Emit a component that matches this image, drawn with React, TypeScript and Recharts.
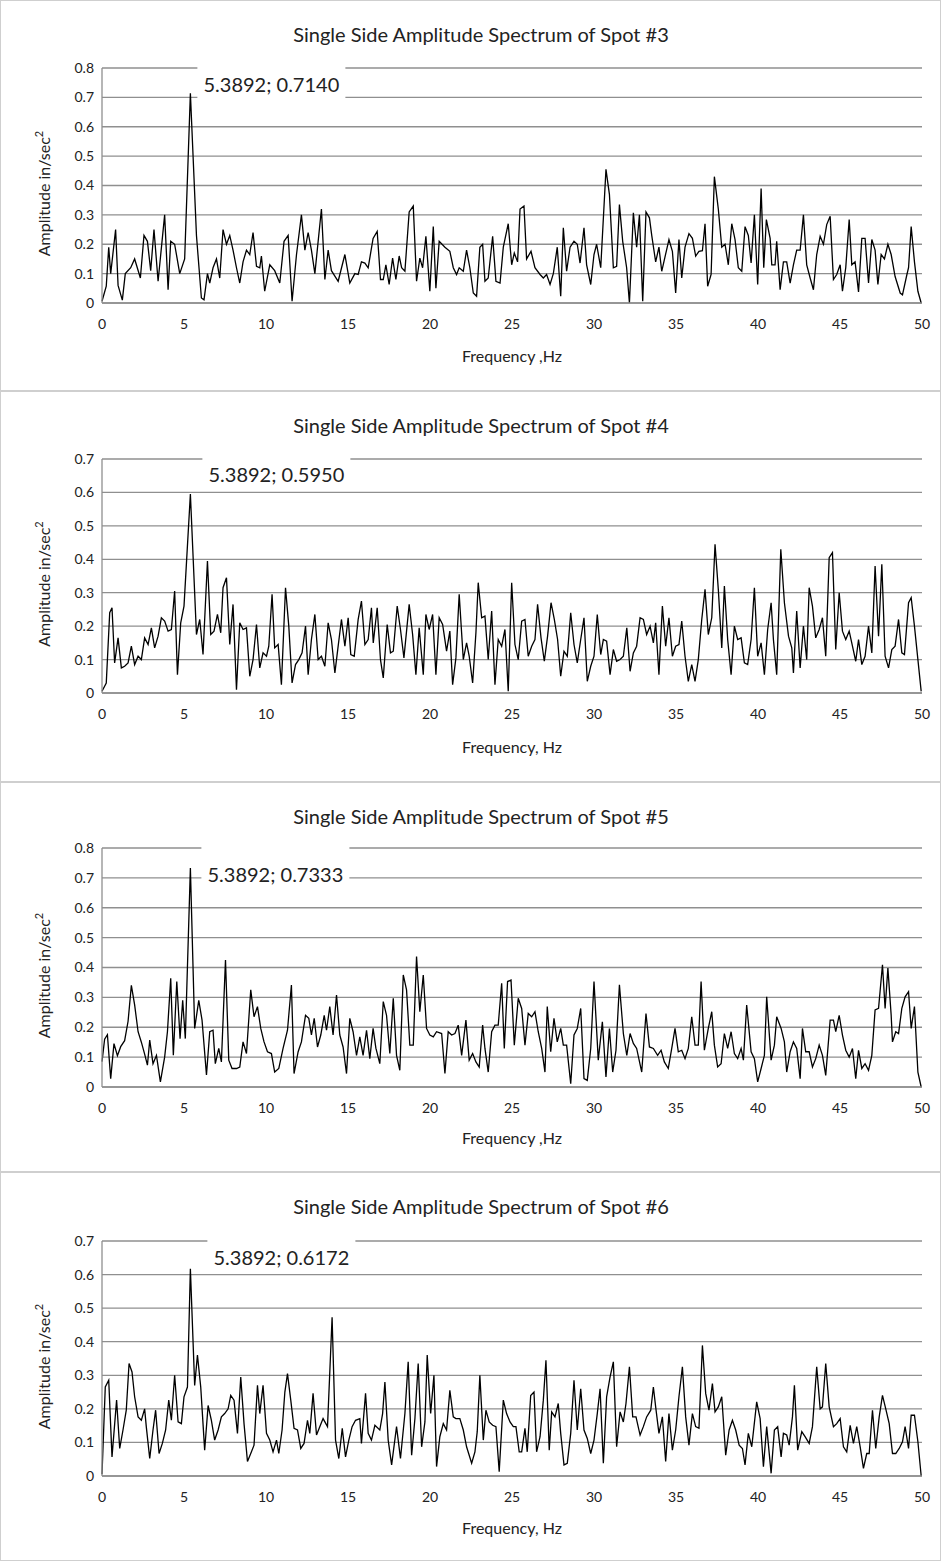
import { LineChart, Line, XAxis, YAxis, CartesianGrid, ReferenceDot } from 'recharts'

const FONT = 'Lato, "Open Sans", sans-serif'
const GRID = '#8f8f8f'

const freqTicks = [0, 5, 10, 15, 20, 25, 30, 35, 40, 45, 50]
const ampTicks8 = [0, 0.1, 0.2, 0.3, 0.4, 0.5, 0.6, 0.7, 0.8]
const ampTicks7 = [0, 0.1, 0.2, 0.3, 0.4, 0.5, 0.6, 0.7]

// [frequency Hz, amplitude in/sec²]
const spot3: [number, number][] = [
  [0, 0.006], [0.26, 0.057], [0.41, 0.19], [0.53, 0.1], [0.83, 0.25], [0.98, 0.06], [1.24, 0.01], [1.42, 0.1], [1.75, 0.12], [1.99, 0.15],
  [2.34, 0.085], [2.56, 0.23], [2.77, 0.21], [2.97, 0.11], [3.17, 0.25], [3.42, 0.074], [3.82, 0.3], [4.03, 0.045], [4.19, 0.21], [4.43, 0.2],
  [4.74, 0.1], [5.04, 0.15], [5.3892, 0.714], [5.76, 0.23], [6.06, 0.017], [6.22, 0.011], [6.43, 0.1], [6.57, 0.068], [6.77, 0.12], [6.98, 0.15],
  [7.18, 0.085], [7.38, 0.25], [7.59, 0.2], [7.79, 0.23], [7.99, 0.18], [8.2, 0.12], [8.4, 0.068], [8.6, 0.14], [8.81, 0.18], [9.01, 0.165],
  [9.21, 0.24], [9.42, 0.125], [9.62, 0.12], [9.72, 0.16], [9.92, 0.04], [10.23, 0.13], [10.53, 0.11], [10.84, 0.068], [11.1, 0.21], [11.35, 0.23],
  [11.59, 0.006], [11.86, 0.165], [12.16, 0.3], [12.37, 0.18], [12.57, 0.24], [12.77, 0.18], [12.98, 0.1], [13.38, 0.32], [13.59, 0.08], [13.79, 0.18],
  [13.99, 0.11], [14.4, 0.074], [14.81, 0.165], [15.11, 0.068], [15.42, 0.1], [15.62, 0.097], [15.82, 0.14], [16.03, 0.136], [16.23, 0.12], [16.53, 0.22],
  [16.78, 0.244], [16.98, 0.08], [17.15, 0.08], [17.31, 0.13], [17.51, 0.063], [17.72, 0.153], [17.92, 0.08], [18.12, 0.16], [18.27, 0.12], [18.47, 0.108],
  [18.73, 0.31], [18.98, 0.33], [19.18, 0.074], [19.38, 0.153], [19.55, 0.12], [19.75, 0.227], [19.99, 0.04], [20.2, 0.26], [20.36, 0.05], [20.56, 0.21],
  [20.91, 0.19], [21.21, 0.176], [21.42, 0.12], [21.62, 0.097], [21.78, 0.12], [22.03, 0.108], [22.23, 0.18], [22.43, 0.12], [22.64, 0.034], [22.84, 0.023],
  [23.04, 0.19], [23.21, 0.2], [23.35, 0.074], [23.55, 0.085], [23.82, 0.227], [24.02, 0.074], [24.27, 0.068], [24.47, 0.19], [24.77, 0.27], [24.98, 0.13],
  [25.14, 0.17], [25.34, 0.14], [25.49, 0.32], [25.73, 0.33], [25.89, 0.15], [26.16, 0.176], [26.4, 0.12], [26.71, 0.097], [26.91, 0.085], [27.11, 0.097],
  [27.32, 0.063], [27.52, 0.1], [27.76, 0.19], [27.97, 0.023], [28.13, 0.256], [28.33, 0.108], [28.54, 0.19], [28.78, 0.21], [28.98, 0.2], [29.15, 0.136],
  [29.39, 0.256], [29.55, 0.13], [29.8, 0.063], [30.0, 0.165], [30.16, 0.2], [30.41, 0.12], [30.73, 0.455], [30.94, 0.37], [31.18, 0.12], [31.38, 0.125],
  [31.55, 0.335], [31.75, 0.21], [31.99, 0.12], [32.16, 0.0], [32.4, 0.307], [32.6, 0.19], [32.77, 0.3], [32.97, 0.006], [33.17, 0.31], [33.38, 0.29],
  [33.52, 0.23], [33.76, 0.14], [33.96, 0.19], [34.13, 0.108], [34.57, 0.216], [34.78, 0.176], [34.98, 0.034], [35.18, 0.216], [35.35, 0.085], [35.55, 0.19],
  [35.79, 0.236], [36.0, 0.22], [36.2, 0.16], [36.4, 0.176], [36.61, 0.178], [36.77, 0.27], [36.93, 0.057], [37.14, 0.097], [37.34, 0.43], [37.58, 0.32],
  [37.79, 0.19], [37.99, 0.2], [38.19, 0.13], [38.4, 0.27], [38.6, 0.216], [38.8, 0.12], [39.01, 0.108], [39.21, 0.26], [39.41, 0.23], [39.58, 0.136],
  [39.78, 0.3], [39.98, 0.063], [40.19, 0.39], [40.35, 0.12], [40.51, 0.284], [40.74, 0.22], [40.84, 0.13], [41.04, 0.13], [41.14, 0.21], [41.35, 0.045],
  [41.55, 0.14], [41.75, 0.14], [41.96, 0.068], [42.16, 0.13], [42.36, 0.18], [42.57, 0.18], [42.77, 0.3], [42.97, 0.13], [43.18, 0.085], [43.38, 0.045],
  [43.58, 0.165], [43.79, 0.227], [43.99, 0.2], [44.19, 0.267], [44.4, 0.295], [44.6, 0.08], [44.8, 0.097], [45.01, 0.13], [45.15, 0.04], [45.35, 0.12],
  [45.56, 0.284], [45.72, 0.13], [45.92, 0.14], [46.13, 0.038], [46.33, 0.22], [46.53, 0.22], [46.74, 0.068], [46.94, 0.216], [47.14, 0.18], [47.31, 0.063],
  [47.51, 0.165], [47.71, 0.15], [47.92, 0.2], [48.12, 0.165], [48.36, 0.09], [48.67, 0.034], [48.81, 0.028], [49.08, 0.097], [49.18, 0.12], [49.34, 0.26],
  [49.54, 0.14], [49.75, 0.04], [49.95, 0.0],
]

const spot4: [number, number][] = [
  [0, 0.005], [0.26, 0.03], [0.47, 0.24], [0.61, 0.255], [0.77, 0.09], [0.98, 0.165], [1.18, 0.075], [1.38, 0.08], [1.59, 0.09], [1.79, 0.14],
  [1.99, 0.085], [2.2, 0.11], [2.4, 0.1], [2.6, 0.165], [2.81, 0.145], [3.01, 0.195], [3.21, 0.135], [3.42, 0.17], [3.62, 0.225], [3.82, 0.215],
  [4.03, 0.185], [4.23, 0.19], [4.43, 0.305], [4.6, 0.055], [4.8, 0.21], [5.0, 0.26], [5.3892, 0.595], [5.76, 0.175], [5.96, 0.22], [6.16, 0.115],
  [6.43, 0.395], [6.63, 0.175], [6.83, 0.185], [7.04, 0.235], [7.24, 0.18], [7.38, 0.315], [7.59, 0.345], [7.79, 0.145], [7.99, 0.265], [8.2, 0.01],
  [8.4, 0.21], [8.6, 0.19], [8.81, 0.195], [9.01, 0.05], [9.21, 0.1], [9.42, 0.205], [9.62, 0.075], [9.82, 0.12], [10.03, 0.11], [10.17, 0.14],
  [10.37, 0.295], [10.53, 0.135], [10.74, 0.145], [10.94, 0.025], [11.19, 0.315], [11.39, 0.2], [11.59, 0.03], [11.8, 0.085], [12.0, 0.1], [12.2, 0.12],
  [12.41, 0.2], [12.57, 0.055], [12.77, 0.16], [12.98, 0.235], [13.18, 0.1], [13.38, 0.11], [13.59, 0.08], [13.79, 0.21], [13.99, 0.16], [14.2, 0.06],
  [14.4, 0.14], [14.6, 0.22], [14.81, 0.14], [15.01, 0.225], [15.17, 0.115], [15.38, 0.11], [15.62, 0.22], [15.82, 0.275], [16.03, 0.145], [16.23, 0.16],
  [16.43, 0.255], [16.54, 0.15], [16.78, 0.255], [16.98, 0.1], [17.15, 0.045], [17.39, 0.205], [17.59, 0.12], [17.76, 0.125], [18.0, 0.26], [18.2, 0.19],
  [18.41, 0.105], [18.73, 0.265], [18.94, 0.175], [19.14, 0.055], [19.34, 0.195], [19.59, 0.055], [19.75, 0.235], [19.95, 0.19], [20.16, 0.235], [20.36, 0.055],
  [20.56, 0.225], [20.77, 0.205], [21.01, 0.125], [21.21, 0.185], [21.38, 0.025], [21.58, 0.105], [21.78, 0.295], [22.03, 0.1], [22.23, 0.15], [22.39, 0.11],
  [22.6, 0.03], [22.8, 0.18], [22.94, 0.33], [23.15, 0.225], [23.35, 0.23], [23.55, 0.1], [23.76, 0.245], [23.96, 0.025], [24.16, 0.16], [24.37, 0.14],
  [24.57, 0.19], [24.77, 0.005], [24.98, 0.33], [25.18, 0.145], [25.38, 0.1], [25.59, 0.215], [25.79, 0.22], [25.99, 0.11], [26.2, 0.14], [26.4, 0.16],
  [26.56, 0.265], [26.77, 0.165], [26.97, 0.095], [27.17, 0.17], [27.38, 0.27], [27.58, 0.22], [27.78, 0.16], [27.97, 0.05], [28.17, 0.125], [28.37, 0.11],
  [28.58, 0.24], [28.78, 0.145], [28.98, 0.09], [29.19, 0.16], [29.39, 0.225], [29.59, 0.035], [29.8, 0.08], [30.0, 0.11], [30.2, 0.235], [30.41, 0.115],
  [30.57, 0.16], [30.77, 0.155], [30.98, 0.055], [31.18, 0.13], [31.38, 0.095], [31.59, 0.1], [31.79, 0.11], [32.0, 0.195], [32.2, 0.065], [32.4, 0.12],
  [32.6, 0.14], [32.81, 0.225], [33.01, 0.22], [33.21, 0.175], [33.42, 0.2], [33.62, 0.15], [33.76, 0.21], [33.96, 0.055], [34.17, 0.26], [34.37, 0.14],
  [34.57, 0.225], [34.78, 0.11], [34.98, 0.14], [35.18, 0.145], [35.35, 0.215], [35.55, 0.11], [35.75, 0.035], [35.96, 0.085], [36.16, 0.035], [36.36, 0.1],
  [36.57, 0.22], [36.77, 0.31], [36.97, 0.175], [37.18, 0.225], [37.38, 0.445], [37.58, 0.31], [37.79, 0.135], [37.95, 0.32], [38.15, 0.16], [38.36, 0.055],
  [38.56, 0.2], [38.76, 0.16], [38.97, 0.165], [39.17, 0.09], [39.37, 0.085], [39.58, 0.16], [39.78, 0.315], [39.98, 0.11], [40.19, 0.15], [40.39, 0.055],
  [40.59, 0.19], [40.8, 0.27], [40.94, 0.16], [41.14, 0.055], [41.39, 0.43], [41.61, 0.27], [41.86, 0.17], [42.06, 0.135], [42.16, 0.06], [42.36, 0.245],
  [42.57, 0.075], [42.77, 0.2], [42.97, 0.1], [43.12, 0.315], [43.32, 0.26], [43.52, 0.165], [43.73, 0.19], [43.93, 0.225], [44.13, 0.11], [44.34, 0.405],
  [44.54, 0.42], [44.74, 0.13], [44.95, 0.3], [45.15, 0.185], [45.35, 0.16], [45.56, 0.185], [45.76, 0.14], [45.96, 0.095], [46.13, 0.16], [46.33, 0.085],
  [46.53, 0.11], [46.74, 0.2], [46.94, 0.12], [47.14, 0.38], [47.35, 0.17], [47.55, 0.385], [47.75, 0.11], [47.96, 0.075], [48.16, 0.13], [48.36, 0.14],
  [48.57, 0.22], [48.77, 0.12], [48.93, 0.115], [49.18, 0.27], [49.34, 0.285], [49.54, 0.2], [49.75, 0.1], [49.95, 0.005],
]

const spot5: [number, number][] = [
  [0, 0.085], [0.16, 0.16], [0.33, 0.175], [0.53, 0.028], [0.73, 0.145], [0.94, 0.105], [1.14, 0.135], [1.38, 0.155], [1.59, 0.22], [1.79, 0.34],
  [1.99, 0.275], [2.2, 0.185], [2.4, 0.15], [2.6, 0.11], [2.77, 0.073], [2.91, 0.157], [3.11, 0.078], [3.32, 0.106], [3.56, 0.017], [3.82, 0.1],
  [3.99, 0.185], [4.19, 0.364], [4.35, 0.106], [4.56, 0.353], [4.76, 0.162], [4.92, 0.29], [5.08, 0.162], [5.3892, 0.7333], [5.65, 0.196], [5.9, 0.29],
  [6.1, 0.224], [6.37, 0.04], [6.57, 0.185], [6.77, 0.19], [6.91, 0.078], [7.12, 0.129], [7.28, 0.084], [7.53, 0.425], [7.73, 0.09], [7.93, 0.062],
  [8.2, 0.062], [8.4, 0.067], [8.6, 0.151], [8.81, 0.112], [9.07, 0.325], [9.27, 0.235], [9.48, 0.269], [9.68, 0.196], [9.88, 0.151], [10.09, 0.118],
  [10.33, 0.112], [10.53, 0.05], [10.78, 0.062], [11.04, 0.129], [11.31, 0.19], [11.55, 0.341], [11.71, 0.045], [11.96, 0.118], [12.16, 0.151], [12.41, 0.24],
  [12.61, 0.23], [12.77, 0.174], [12.94, 0.23], [13.14, 0.134], [13.34, 0.174], [13.55, 0.24], [13.69, 0.19], [13.89, 0.269], [14.09, 0.174], [14.3, 0.308],
  [14.5, 0.174], [14.7, 0.134], [14.91, 0.045], [15.11, 0.23], [15.31, 0.185], [15.52, 0.106], [15.72, 0.168], [15.92, 0.106], [16.13, 0.19], [16.33, 0.095],
  [16.53, 0.196], [16.7, 0.13], [16.94, 0.078], [17.15, 0.286], [17.35, 0.24], [17.55, 0.112], [17.76, 0.297], [17.96, 0.106], [18.16, 0.056], [18.37, 0.375],
  [18.57, 0.325], [18.77, 0.14], [18.98, 0.14], [19.18, 0.437], [19.38, 0.252], [19.59, 0.375], [19.79, 0.196], [19.99, 0.174], [20.2, 0.168], [20.4, 0.185],
  [20.71, 0.179], [20.91, 0.045], [21.11, 0.185], [21.32, 0.174], [21.52, 0.179], [21.72, 0.207], [21.93, 0.106], [22.19, 0.224], [22.39, 0.09], [22.6, 0.112],
  [22.8, 0.084], [23.0, 0.067], [23.21, 0.207], [23.35, 0.129], [23.55, 0.05], [23.76, 0.185], [23.96, 0.207], [24.16, 0.207], [24.37, 0.347], [24.53, 0.129],
  [24.73, 0.353], [24.94, 0.358], [25.14, 0.14], [25.38, 0.297], [25.59, 0.263], [25.79, 0.14], [25.99, 0.246], [26.2, 0.235], [26.4, 0.252], [26.6, 0.185],
  [26.81, 0.129], [27.01, 0.05], [27.15, 0.269], [27.36, 0.118], [27.56, 0.23], [27.76, 0.151], [27.97, 0.196], [28.13, 0.14], [28.33, 0.14], [28.58, 0.011],
  [28.78, 0.174], [28.98, 0.196], [29.19, 0.263], [29.39, 0.028], [29.59, 0.022], [29.8, 0.129], [30.0, 0.353], [30.26, 0.09], [30.51, 0.218], [30.73, 0.034],
  [30.94, 0.196], [31.14, 0.05], [31.34, 0.123], [31.55, 0.342], [31.79, 0.179], [32.0, 0.106], [32.2, 0.179], [32.4, 0.146], [32.6, 0.129], [32.91, 0.05],
  [33.17, 0.246], [33.38, 0.134], [33.62, 0.129], [33.88, 0.106], [34.09, 0.123], [34.29, 0.084], [34.53, 0.062], [34.74, 0.129], [34.94, 0.196], [35.14, 0.118],
  [35.35, 0.123], [35.55, 0.095], [35.75, 0.129], [35.96, 0.235], [36.16, 0.14], [36.36, 0.14], [36.53, 0.353], [36.73, 0.123], [36.97, 0.196], [37.18, 0.252],
  [37.34, 0.14], [37.54, 0.067], [37.75, 0.078], [37.95, 0.179], [38.15, 0.129], [38.36, 0.185], [38.56, 0.112], [38.76, 0.095], [38.97, 0.129], [39.11, 0.09],
  [39.31, 0.274], [39.58, 0.118], [39.78, 0.095], [39.98, 0.017], [40.19, 0.062], [40.39, 0.106], [40.53, 0.302], [40.8, 0.09], [41.0, 0.14], [41.14, 0.235],
  [41.41, 0.196], [41.61, 0.151], [41.75, 0.05], [41.96, 0.118], [42.16, 0.151], [42.36, 0.129], [42.57, 0.028], [42.71, 0.196], [42.91, 0.118], [43.12, 0.118],
  [43.32, 0.067], [43.52, 0.095], [43.73, 0.14], [43.93, 0.106], [44.13, 0.039], [44.4, 0.224], [44.6, 0.224], [44.74, 0.185], [44.95, 0.24], [45.15, 0.174],
  [45.35, 0.123], [45.56, 0.1], [45.76, 0.129], [45.96, 0.028], [46.13, 0.123], [46.33, 0.062], [46.53, 0.078], [46.74, 0.056], [46.94, 0.106], [47.14, 0.258],
  [47.35, 0.263], [47.59, 0.409], [47.75, 0.263], [47.92, 0.398], [48.12, 0.24], [48.2, 0.151], [48.4, 0.185], [48.57, 0.179], [48.77, 0.263], [48.97, 0.302],
  [49.18, 0.319], [49.34, 0.196], [49.54, 0.269], [49.75, 0.05], [49.95, 0.0],
]

const spot6: [number, number][] = [
  [0, 0.005], [0.2, 0.265], [0.41, 0.285], [0.61, 0.057], [0.89, 0.226], [1.08, 0.082], [1.28, 0.137], [1.48, 0.196], [1.65, 0.335], [1.83, 0.31],
  [1.99, 0.236], [2.2, 0.176], [2.4, 0.166], [2.6, 0.2], [2.7, 0.147], [2.91, 0.052], [3.11, 0.137], [3.27, 0.196], [3.48, 0.067], [3.68, 0.097],
  [3.88, 0.137], [4.07, 0.226], [4.23, 0.166], [4.43, 0.3], [4.64, 0.161], [4.84, 0.156], [5.0, 0.236], [5.21, 0.265], [5.3892, 0.6172], [5.65, 0.27],
  [5.82, 0.36], [6.02, 0.265], [6.26, 0.077], [6.47, 0.21], [6.67, 0.166], [6.87, 0.107], [7.08, 0.137], [7.28, 0.176], [7.48, 0.186], [7.69, 0.2],
  [7.85, 0.24], [8.05, 0.226], [8.26, 0.127], [8.46, 0.295], [8.66, 0.156], [8.87, 0.043], [9.07, 0.067], [9.27, 0.092], [9.48, 0.27], [9.62, 0.186],
  [9.82, 0.27], [10.03, 0.127], [10.23, 0.107], [10.43, 0.072], [10.64, 0.107], [10.78, 0.067], [10.98, 0.137], [11.15, 0.25], [11.31, 0.305], [11.51, 0.226],
  [11.71, 0.142], [11.92, 0.137], [12.12, 0.082], [12.32, 0.097], [12.53, 0.166], [12.67, 0.127], [12.87, 0.246], [13.08, 0.122], [13.28, 0.147], [13.48, 0.171],
  [13.75, 0.147], [14.03, 0.473], [14.24, 0.107], [14.44, 0.052], [14.65, 0.142], [14.85, 0.057], [15.05, 0.107], [15.25, 0.147], [15.46, 0.166], [15.72, 0.171],
  [15.82, 0.097], [16.07, 0.246], [16.23, 0.127], [16.43, 0.107], [16.64, 0.151], [16.94, 0.137], [17.11, 0.186], [17.25, 0.28], [17.45, 0.107], [17.66, 0.033],
  [17.96, 0.147], [18.2, 0.052], [18.47, 0.186], [18.67, 0.34], [18.88, 0.062], [19.08, 0.171], [19.28, 0.335], [19.49, 0.087], [19.69, 0.161], [19.83, 0.36],
  [20.04, 0.186], [20.24, 0.3], [20.4, 0.028], [20.6, 0.117], [20.81, 0.156], [21.01, 0.137], [21.21, 0.255], [21.42, 0.176], [21.58, 0.171], [21.82, 0.171],
  [22.03, 0.137], [22.23, 0.087], [22.54, 0.038], [22.74, 0.072], [22.88, 0.132], [23.04, 0.3], [23.25, 0.107], [23.41, 0.196], [23.61, 0.161], [23.82, 0.151],
  [24.02, 0.147], [24.22, 0.013], [24.47, 0.226], [24.67, 0.186], [24.88, 0.161], [25.08, 0.147], [25.24, 0.147], [25.44, 0.072], [25.59, 0.072], [25.79, 0.142],
  [25.93, 0.072], [26.14, 0.24], [26.34, 0.25], [26.5, 0.072], [26.71, 0.117], [26.91, 0.226], [27.07, 0.345], [27.27, 0.077], [27.42, 0.191], [27.62, 0.176],
  [27.82, 0.216], [27.97, 0.127], [28.17, 0.033], [28.37, 0.038], [28.58, 0.127], [28.78, 0.285], [28.98, 0.137], [29.19, 0.26], [29.39, 0.137], [29.59, 0.112],
  [29.8, 0.067], [30.0, 0.107], [30.2, 0.186], [30.37, 0.26], [30.57, 0.038], [30.77, 0.236], [30.98, 0.295], [31.18, 0.34], [31.38, 0.087], [31.59, 0.191],
  [31.79, 0.161], [31.95, 0.216], [32.16, 0.325], [32.36, 0.176], [32.56, 0.176], [32.81, 0.122], [33.01, 0.147], [33.21, 0.176], [33.46, 0.196], [33.62, 0.265],
  [33.76, 0.206], [33.96, 0.127], [34.17, 0.176], [34.37, 0.043], [34.57, 0.186], [34.78, 0.077], [34.98, 0.137], [35.18, 0.236], [35.39, 0.325], [35.59, 0.176],
  [35.79, 0.092], [36.0, 0.186], [36.2, 0.147], [36.4, 0.142], [36.61, 0.389], [36.81, 0.246], [37.01, 0.196], [37.22, 0.275], [37.38, 0.191], [37.58, 0.206],
  [37.79, 0.236], [38.03, 0.062], [38.24, 0.137], [38.44, 0.166], [38.64, 0.137], [38.85, 0.092], [39.05, 0.082], [39.21, 0.033], [39.41, 0.127], [39.62, 0.087],
  [39.92, 0.221], [40.13, 0.171], [40.33, 0.028], [40.53, 0.147], [40.8, 0.008], [41.0, 0.137], [41.2, 0.147], [41.41, 0.057], [41.55, 0.127], [41.75, 0.122],
  [41.9, 0.092], [42.1, 0.176], [42.22, 0.27], [42.42, 0.077], [42.67, 0.132], [42.87, 0.117], [43.12, 0.097], [43.32, 0.147], [43.58, 0.325], [43.79, 0.2],
  [43.93, 0.206], [44.13, 0.335], [44.34, 0.206], [44.6, 0.147], [44.8, 0.156], [45.01, 0.171], [45.21, 0.087], [45.41, 0.072], [45.62, 0.151], [45.82, 0.097],
  [46.02, 0.147], [46.23, 0.087], [46.43, 0.023], [46.63, 0.067], [46.78, 0.067], [46.98, 0.196], [47.18, 0.082], [47.39, 0.176], [47.59, 0.24], [47.79, 0.2],
  [48.0, 0.156], [48.2, 0.067], [48.4, 0.067], [48.61, 0.082], [48.81, 0.102], [48.97, 0.147], [49.18, 0.082], [49.34, 0.181], [49.54, 0.181], [49.75, 0.102],
  [49.95, 0.0],
]

// label offsets from the peak point, and how far its white box reaches up / down
const panels = [
  { spot: '#3', xTitle: 'Frequency ,Hz', data: spot3, ticks: ampTicks8, peak: [5.3892, 0.714], top: 0, height: 391, plotTop: 68, plotBottom: 303, dx: 81, dy: -8, up: 19, down: 15 },
  { spot: '#4', xTitle: 'Frequency, Hz', data: spot4, ticks: ampTicks7, peak: [5.3892, 0.595], top: 391, height: 391, plotTop: 459, plotBottom: 693, dx: 86, dy: -19, up: 19, down: 10 },
  { spot: '#5', xTitle: 'Frequency ,Hz', data: spot5, ticks: ampTicks8, peak: [5.3892, 0.7333], top: 782, height: 390, plotTop: 848, plotBottom: 1087, dx: 85, dy: 7, up: 30, down: 12 },
  { spot: '#6', xTitle: 'Frequency, Hz', data: spot6, ticks: ampTicks7, peak: [5.3892, 0.6172], top: 1172, height: 389, plotTop: 1241, plotBottom: 1476, dx: 91, dy: -11, up: 20, down: 10 },
]

const W = 941

function PeakLabel(props: any) {
  const { cx, cy, dx, dy, up, down, text } = props
  const x = cx + dx
  const y = cy + dy
  return (
    <g>
      <rect x={x - 74} y={y - up} width={148} height={up + down} fill="#fff" />
      <text x={x} y={y + 7} textAnchor="middle" fontSize={20} fontFamily={FONT} fill="#222">{text}</text>
    </g>
  )
}

function Panel({ p }: { p: (typeof panels)[number] }) {
  const rows = p.data.map(([f, a]) => ({ f, a }))
  const plotTop = p.plotTop - p.top
  const plotBottom = p.plotBottom - p.top
  const yMax = p.ticks[p.ticks.length - 1]
  const label = `${p.peak[0].toFixed(4)}; ${p.peak[1].toFixed(4)}`
  return (
    <div style={{ position: 'absolute', left: 0, top: p.top, width: W, height: p.height, background: '#fff', boxShadow: 'inset 0 0 0 1px #cfcfcf' }}>
      <LineChart width={W} height={p.height} data={rows}
        margin={{ top: plotTop, right: W - 922, bottom: p.height - plotBottom - 30, left: 0 }}>
        <CartesianGrid vertical={false} stroke={GRID} strokeWidth={1.3} />
        <XAxis dataKey="f" type="number" domain={[0, 50]} ticks={freqTicks} height={30}
          tickLine={false} axisLine={{ stroke: GRID, strokeWidth: 1.3 }} tickMargin={10}
          tick={{ fill: '#222', fontSize: 14, fontFamily: FONT }} />
        <YAxis type="number" domain={[0, yMax]} ticks={p.ticks} width={102}
          tickLine={false} axisLine={{ stroke: GRID, strokeWidth: 1.3 }} tickMargin={2}
          tickFormatter={(v: number) => (v === 0 ? '0' : v.toFixed(1))}
          tick={{ fill: '#222', fontSize: 14, fontFamily: FONT }} />
        <ReferenceDot x={p.peak[0]} y={p.peak[1]} r={0}
          shape={(s: any) => <PeakLabel {...s} dx={p.dx} dy={p.dy} up={p.up} down={p.down} text={label} />} />
        <Line type="linear" dataKey="a" stroke="#000" strokeWidth={1.3} dot={false} isAnimationActive={false} />
      </LineChart>
      <svg width={W} height={p.height} style={{ position: 'absolute', left: 0, top: 0, pointerEvents: 'none' }}>
        <text x={481} y={42} textAnchor="middle" fontSize={20} fontFamily={FONT} fill="#222">
          {`Single Side Amplitude Spectrum of Spot ${p.spot}`}
        </text>
        <text x={512} y={362} textAnchor="middle" fontSize={16} fontFamily={FONT} fill="#222">{p.xTitle}</text>
        <text transform={`translate(50, ${(plotTop + plotBottom) / 2 + 8}) rotate(-90)`} textAnchor="middle" fontSize={16} fontFamily={FONT} fill="#222">
          Amplitude in/sec<tspan fontSize={11} dy={-7}>2</tspan>
        </text>
      </svg>
    </div>
  )
}

export default function App() {
  return (
    <div style={{ position: 'absolute', left: 0, top: 0, width: W, height: 1561, background: '#fff' }}>
      {panels.map((p) => <Panel key={p.spot} p={p} />)}
    </div>
  )
}
